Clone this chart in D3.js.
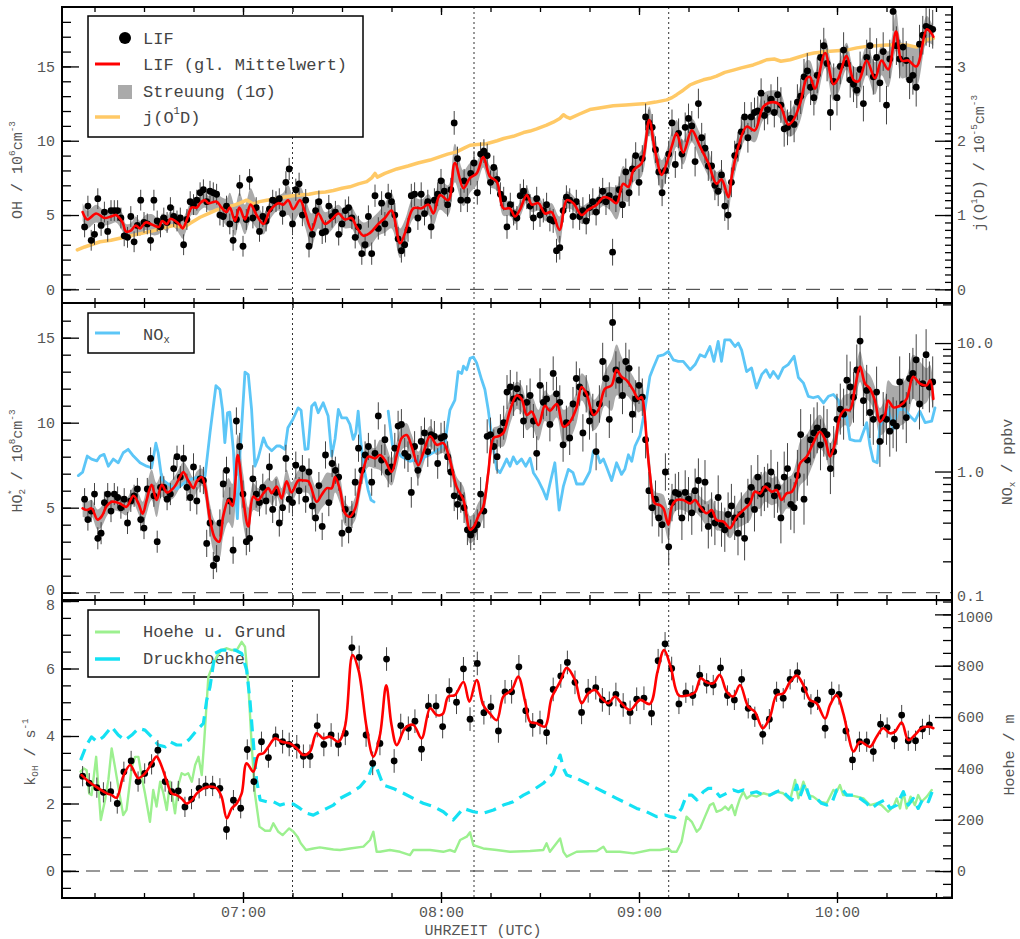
<!DOCTYPE html>
<html><head><meta charset="utf-8">
<script src="https://cdn.jsdelivr.net/npm/d3@7"></script>
<style>
body{margin:0;background:#fff;}
svg{display:block;}
text{font-family:"Liberation Mono","Courier New",monospace;}
</style></head><body>
<svg id="chart" width="1020" height="939"></svg>
<script>
// ---------------- DATA (time in minutes after 06:00) ----------------
const xMajorTicks = [60,120,180,240];
const xTickLabels = ["07:00","08:00","09:00","10:00"];
const markerTimes = [75,130,189];

// Panel 1: OH
const ohTicks = [0,5,10,15];
const jTicks = [0,1,2,3];
// smoothed mean [t, value, sigma]
const ohMean = [[11.4,5.2,0.6],[12.8,4.7,0.6],[15.5,5.1,0.6],[18,4.8,0.5],[20,4.9,0.5],[21.5,5.0,0.5],[23.5,4.5,0.6],[24.5,3.9,0.5],[26,3.95,0.5],[27.5,4.3,0.6],[28.8,4.1,0.5],[30.5,4.5,0.5],[32.5,4.35,0.7],[34.5,4.2,0.5],[35.5,4.6,0.5],[37,4.4,0.5],[38,4.75,0.5],[39.5,4.6,0.5],[41,4.3,0.7],[41.7,4.1,0.7],[43,4.7,0.6],[44.4,5.5,0.5],[46,5.5,0.5],[47,5.8,0.5],[48.5,6.0,0.5],[49.5,5.8,0.5],[52,5.9,0.6],[53.5,5.5,0.7],[55,5.2,0.9],[56,5.5,1.0],[57.6,4.6,1.0],[58.9,5.5,1.0],[60.6,4.7,1.0],[62.3,5.7,1.1],[64.1,5.0,0.9],[66.2,4.4,0.7],[68.2,5.3,0.6],[70.7,5.8,0.5],[72.2,5.7,0.8],[73.7,6.0,1.0],[75.2,5.4,0.9],[77.3,6.0,0.9],[78.8,5.2,1.0],[80.8,4.0,1.1],[82.8,5.1,1.0],[84.8,4.4,0.8],[86.9,4.7,0.7],[88.9,5.1,0.6],[90.9,4.7,0.6],[92.9,4.8,0.7],[94.4,4.2,0.8],[96.5,3.6,0.9],[98.5,3.8,0.9],[101,4.4,0.8],[103,4.8,1.0],[105,5.3,1.2],[107.6,3.1,1.0],[109.1,3.8,0.9],[111.6,5.45,0.7],[114.1,5.45,0.6],[116.2,5.7,0.7],[117.7,5.1,0.8],[119.7,6.35,1.0],[122.2,6.0,1.0],[124.2,8.5,1.3],[126.8,6.8,1.2],[128.8,7.5,1.0],[130.8,7.8,0.8],[132.8,8.9,0.7],[134.8,7.6,0.7],[136.9,7.25,0.6],[138.9,5.45,0.5],[140.9,5.45,0.5],[142.4,4.9,0.5],[143.9,5.35,0.5],[146,6.35,0.5],[147.5,5.7,0.5],[149.5,5.8,0.5],[151.5,5.1,0.5],[153.5,5.2,0.6],[155.9,4.0,0.9],[158.1,6.0,0.6],[160.1,5.8,0.5],[162.6,5.0,0.6],[164.6,5.35,0.5],[167.2,5.7,0.5],[169.2,6.2,0.6],[171.2,6.1,0.8],[173.2,5.8,1.1],[175.2,7.1,1.2],[176.8,6.9,1.0],[178.3,8.0,0.8],[180.8,8.5,0.9],[183.1,11.4,0.9],[184.8,9.4,1.0],[186.9,7.7,1.0],[188.4,8.5,0.9],[189.9,9.6,1.0],[191.4,10.5,0.9],[193.4,9.2,0.8],[196,10.7,0.8],[198.5,9.6,0.9],[201,8.5,0.9],[203.5,7.1,0.8],[205,7.4,0.7],[207.1,6.2,0.8],[208.1,7.6,0.9],[210.1,9.6,0.9],[212.6,10.95,0.8],[215.1,10.7,0.8],[217.7,12.3,0.9],[220.7,12.6,0.8],[222.7,12.4,0.9],[225.2,11.1,0.8],[226.8,11.4,1.0],[228.8,12.5,1.2],[230.8,14.2,1.2],[231.8,14.3,1.1],[233.3,13.5,1.1],[236.4,15.9,1.0],[238.9,13.8,1.1],[240.4,14.2,1.0],[242.9,15.7,0.9],[245,14.1,0.9],[246.5,14.0,1.0],[249,15.4,1.0],[251.5,14.2,1.1],[253.5,15.4,1.0],[255.5,14.8,1.2],[257.9,17.35,1.3],[259.6,15.4,1.2],[261.6,15.4,1.1],[264.1,15.0,1.3],[267.2,17.5,0.9],[268.7,17.2,0.7],[269.2,17.0,0.6]];
// individual LIF points, one per minute starting 06:12
const dotStart = 12;
const ohDots = [
4.2,5.6,3.3,3.7,6.1,4.3,5.2,3.9,5.3,5.3,
5.3,4.8,3.6,3.5,4.9,3.2,4.3,6.0,4.5,4.4,
3.3,6.0,4.6,4.2,4.8,4.5,5.5,4.9,4.6,4.8,
3.0,4.7,5.9,5.7,6.0,6.5,6.7,5.9,6.6,6.5,
6.4,5.0,4.9,5.6,4.4,3.3,4.7,7.0,2.9,4.7,
7.4,4.8,5.5,3.9,4.9,4.6,5.4,6.0,5.9,6.1,
5.1,7.2,8.1,4.4,6.7,7.1,5.0,6.0,2.9,3.7,
5.3,5.9,3.8,3.9,5.6,4.9,5.2,3.7,4.4,5.3,
5.5,4.8,3.5,4.2,2.4,3.0,4.9,2.4,6.3,4.1,
5.8,4.4,6.3,5.9,5.0,3.4,2.6,3.0,4.0,6.3,
6.4,4.8,6.4,5.1,5.9,4.2,6.0,6.4,7.3,6.6,
5.7,6.7,11.2,8.8,6.0,7.3,6.0,7.8,8.5,6.5,
9.1,9.3,9.0,7.2,8.2,7.4,6.4,6.1,4.2,5.7,
5.1,4.8,6.3,6.6,6.2,5.6,4.8,6.1,5.0,5.3,
5.7,4.7,4.6,2.6,2.8,5.3,6.2,6.0,4.9,5.9,
4.9,5.3,4.6,5.5,5.9,5.2,6.0,6.6,5.9,6.3,
2.5,6.1,6.7,5.7,7.9,6.5,8.1,9.0,7.2,8.8,
11.6,11.2,10.9,9.4,7.9,6.5,8.0,9.1,11.2,8.4,
10.5,9.1,10.9,11.5,11.0,8.6,12.5,10.2,9.5,8.3,
8.3,7.0,6.6,7.7,5.6,5.0,7.2,9.0,9.6,10.6,
11.6,10.2,11.6,11.9,12.0,13.2,11.7,12.1,12.8,11.9,
13.1,12.4,10.8,10.9,11.5,11.1,12.6,13.0,14.3,14.7,
13.6,12.9,14.4,15.6,16.4,15.2,11.9,14.0,12.9,15.0,
16.1,15.2,14.1,13.8,13.4,14.8,12.5,15.6,16.4,14.3,
15.6,13.9,16.0,12.4,15.5,18.7,16.4,15.5,16.3,15.4,
14.1,14.4,13.6,16.5,17.1,17.7,17.6,17.5];
// error bar (1 sigma) for each 30-minute block
const ohErr = [0.7,0.7,0.75,0.8,0.8,0.9,1.0,1.2,1.3];
// j(O1D) in 1e-5
const jO1D = [[9.8,0.53],[12,0.57],[14,0.6],[16.7,0.64],[20,0.66],[23,0.69],[26.8,0.73],[30,0.76],[33,0.79],[36.9,0.84],[39,0.86],[41.9,0.83],[44,0.89],[47,0.97],[50,1.03],[52,1.07],[55,1.11],[57.1,1.13],[59,1.16],[61.1,1.2],[62,1.18],[63.1,1.15],[65,1.18],[67.2,1.2],[70,1.22],[72.2,1.24],[75,1.26],[77.3,1.27],[80,1.28],[82.3,1.3],[85,1.31],[87.4,1.33],[90,1.36],[92.4,1.38],[95,1.42],[97.5,1.45],[99,1.5],[100,1.56],[100.7,1.51],[103,1.56],[106.6,1.62],[110,1.66],[113,1.7],[116.7,1.74],[120,1.79],[122,1.82],[124.7,1.85],[127,1.9],[128.8,1.94],[131,1.95],[133.8,1.96],[137,2.0],[139,2.03],[141.9,2.06],[145,2.11],[147,2.13],[149,2.16],[152,2.21],[154,2.25],[156,2.3],[157.1,2.35],[158,2.32],[159.1,2.3],[162,2.36],[165.1,2.42],[168,2.44],[172.2,2.47],[176,2.48],[179,2.49],[182.3,2.5],[185,2.52],[188.4,2.55],[190,2.58],[191.4,2.62],[193.4,2.68],[195.4,2.75],[197.5,2.79],[199.5,2.82],[201.5,2.84],[203.5,2.87],[206,2.92],[208.6,2.95],[211,2.98],[214.6,3.02],[216.5,3.05],[218.7,3.09],[221,3.1],[223,3.07],[225.8,3.09],[228,3.12],[230.8,3.16],[233,3.18],[236.9,3.2],[240,3.21],[242.9,3.22],[246,3.25],[249,3.27],[252,3.28],[255,3.29],[258,3.29],[261.1,3.29],[264.1,3.26],[265.5,3.3],[267.2,3.36],[269.2,3.38]];

// Panel 2: HO2*
const hoTicks = [0,5,10,15];
const noxTicks = [0.1,1,10];
const noxTickLabels = ["0.1","1.0","10.0"];
const hoMean = [[11.4,4.96,0.5],[12.8,4.86,0.5],[14.1,4.96,0.5],[15.9,4.3,0.6],[17.2,4.5,0.6],[18.7,5.1,0.6],[20.2,5.35,0.5],[22.7,5.25,0.5],[24.7,5.05,0.5],[26.8,5.7,0.5],[28.3,5.25,0.6],[29.6,4.65,0.7],[30.8,5.45,0.8],[32.3,6.35,0.9],[33.8,5.45,1.0],[35.4,6.35,0.7],[36.9,5.9,0.5],[38.9,6.15,0.6],[40.9,6.8,0.6],[41.9,7.1,0.6],[43.4,6.6,0.7],[45,6.15,0.6],[46,6.55,0.6],[47.5,6.8,0.5],[48.5,6.25,0.7],[50,4.3,0.9],[51.5,3.2,1.0],[52.8,3.0,1.0],[54,4.5,1.2],[55.6,5.45,1.3],[56.8,5.1,1.3],[58.4,8.1,1.2],[60.1,5.45,1.5],[61.6,3.9,1.1],[63.1,5.65,0.8],[64.6,5.45,0.7],[66.2,5.85,0.6],[67.7,6.15,0.6],[68.7,5.85,0.7],[70.2,6.25,0.6],[71.7,5.55,0.6],[73.2,6.55,0.7],[74.7,5.9,0.6],[76.8,6.6,0.6],[78.3,6.6,0.7],[79.8,6.55,0.7],[82.3,5.35,0.8],[83.8,5.75,0.8],[85.4,6.15,0.9],[86.9,6.15,0.9],[87.9,6.8,0.9],[89.4,6.05,0.8],[90.9,4.67,0.7],[92.4,4.47,0.6],[94,4.96,0.7],[95.5,6.43,0.7],[96.5,7.3,0.6],[98,8.0,0.6],[100,7.9,0.6],[101.5,8.1,0.9],[103,7.8,1.0],[105,7.1,0.8],[106.6,8.1,0.8],[108.1,9.1,0.7],[109.6,9.27,0.7],[111.1,8.6,0.7],[113.1,7.5,0.8],[114.6,8.2,0.7],[116.7,9.2,0.6],[118.7,8.7,0.6],[120.7,8.8,0.6],[122.7,7.8,0.6],[124.7,6.24,0.6],[126.8,5.45,0.8],[128.8,3.7,0.8],[130,3.9,0.8],[131.3,4.5,0.8],[132.8,5.06,0.7],[134.3,7.0,0.6],[135.9,9.1,0.6],[137.4,9.2,0.6],[138.9,9.4,0.8],[140.9,10.7,0.8],[142.9,11.6,0.8],[144.4,11.4,0.8],[146,10.45,0.9],[147.5,10.65,0.9],[149.5,9.85,0.9],[151.5,11.0,0.9],[153,10.7,0.9],[155.1,11.1,0.8],[157.1,9.76,1.0],[159.1,10.06,1.0],[161.1,10.9,0.9],[162.6,12.1,0.8],[164.1,11.7,0.9],[166.2,10.45,0.9],[167.7,10.75,0.9],[169.7,12.0,1.0],[171.7,12.2,1.5],[173.2,13.1,1.5],[174.7,12.7,1.2],[176.2,12.5,0.9],[178.3,11.9,0.8],[179.8,11.4,0.8],[180.8,11.5,0.8],[181.5,10.9,0.8],[182.3,9.0,0.8],[183.3,7.0,0.8],[184.8,5.25,0.7],[186.4,5.15,0.7],[187.4,4.96,0.8],[188.9,4.0,0.9],[189.9,5.06,0.8],[191.4,5.45,0.6],[193.4,5.45,0.6],[195.5,5.25,0.6],[197,5.45,0.7],[198.5,5.06,0.6],[200.5,4.67,0.7],[202,4.86,0.7],[203.5,4.27,0.6],[205.6,4.18,0.6],[207.6,3.8,0.6],[209.6,4.47,0.7],[211.6,4.86,0.9],[213.6,5.25,1.0],[215.1,5.94,1.0],[216.7,5.84,0.9],[218.2,6.24,0.9],[220.2,5.94,0.8],[221.7,6.04,0.8],[223.2,5.45,0.9],[224.7,5.84,0.9],[226.3,5.94,1.0],[227.8,6.63,1.2],[228.8,7.6,1.3],[230.8,8.0,1.3],[232.8,8.8,1.2],[234.8,9.47,1.0],[236.4,8.98,0.9],[237.9,8.0,0.8],[239.4,8.8,0.7],[240.9,10.35,0.8],[242.4,10.75,0.9],[243.9,10.75,1.0],[245.5,12.1,1.0],[247,13.3,0.9],[248.5,12.3,0.8],[250,12.0,0.8],[251.5,11.3,0.8],[253,10.06,0.8],[254.5,10.45,1.0],[255.5,11.3,1.2],[257.1,10.9,1.3],[259.1,11.0,1.2],[261.1,11.4,1.3],[263.1,12.7,1.3],[265.1,12.3,1.3],[267.2,12.2,1.0],[268.2,12.5,0.9],[269.2,11.4,0.8]];
const hoDots = [
5.5,4.3,4.8,5.8,3.2,3.5,5.3,5.8,4.8,5.8,
5.6,5.0,5.5,4.1,5.4,5.7,6.1,4.3,3.8,6.1,
7.9,5.7,3.0,6.2,6.2,5.5,5.8,7.3,8.0,6.8,
7.9,6.2,5.6,7.4,5.4,6.7,6.6,2.9,4.1,1.6,
2.0,4.1,6.4,7.2,5.4,2.5,10.1,8.6,5.8,3.0,
3.2,6.7,5.8,5.3,6.2,5.4,7.4,4.9,5.9,4.1,
5.0,7.9,5.5,5.3,7.5,6.0,7.3,5.5,7.1,5.1,
4.4,6.3,3.9,8.1,5.3,7.6,7.2,6.8,3.5,4.9,
3.7,4.6,6.5,8.5,7.2,8.1,8.6,6.5,8.2,10.4,
7.8,9.0,7.1,7.4,8.5,9.8,9.9,8.2,8.0,5.9,
8.6,7.2,8.9,9.4,8.3,9.3,9.2,7.6,9.1,9.2,
8.0,7.1,5.7,5.2,5.6,5.0,3.7,3.4,3.7,4.0,
5.8,4.8,9.2,9.3,8.6,8.0,9.5,10.0,11.8,12.1,
11.4,12.0,11.5,10.1,11.2,11.6,10.1,8.2,12.2,11.2,
11.4,9.9,12.9,11.7,11.2,8.7,10.0,9.1,11.1,12.6,
12.1,9.4,11.7,10.1,10.6,8.3,11.1,13.6,12.6,10.2,
15.9,13.1,12.5,11.6,13.6,13.2,10.5,11.4,12.2,11.5,
9.0,6.0,5.0,5.5,4.4,4.0,7.1,2.7,5.3,5.9,
5.8,4.4,5.9,5.5,4.7,6.0,6.6,4.9,6.5,3.9,
4.6,4.1,5.6,4.0,3.7,4.6,5.1,4.4,3.5,4.6,
3.2,5.4,6.2,4.9,6.8,5.8,6.1,6.3,7.1,5.7,
6.2,4.4,6.8,7.3,5.2,5.0,6.9,9.3,5.5,7.8,
9.0,9.4,9.7,8.7,9.5,9.3,7.3,8.3,10.2,10.8,
10.5,12.5,12.1,11.5,13.1,14.8,11.3,11.9,10.6,10.2,
11.8,8.9,10.3,10.2,9.5,10.0,9.8,12.4,11.1,10.3,
12.6,12.9,13.7,11.1,12.3,14.0,12.1,12.4];
const hoErr = [0.65,0.8,0.8,0.9,1.0,1.1,1.3,1.5,1.5];
// NOx (ppbv), two segments (data gap)
const noxSeg1 = [[10.1,0.93],[11.4,0.99],[12.8,1.32],[14.1,1.25],[15.7,1.21],[16.7,1.32],[17.9,1.36],[19.2,1.1],[20.7,1.25],[22.2,1.17],[23.7,1.4],[25.2,1.49],[26.8,1.32],[28.8,1.17],[30.8,1.1],[32.3,1.07],[33.6,1.66],[34.3,1.4],[35.4,0.87],[37.9,0.78],[39.9,0.73],[43,0.85],[46,0.9],[48.5,0.92],[50,2.0],[51.8,4.66],[53,4.35],[53.8,3.04],[54.5,1.68],[55.3,2.86],[56,2.9],[57.1,1.45],[57.6,0.77],[58.3,0.43],[59.1,1.4],[60.6,5.93],[61.6,5.68],[62.6,3.04],[63.6,1.1],[64.6,1.28],[66.2,1.83],[67.2,1.58],[68.7,1.45],[70.2,1.58],[71.2,1.58],[72.7,1.49],[73.6,2.19],[75.1,2.54],[76.7,3.13],[77.6,3.0],[78.8,1.49],[79.7,1.5],[80.8,3.22],[81.8,3.43],[82.8,2.87],[84.3,3.43],[85.8,2.7],[86.9,1.32],[87.9,1.8],[88.9,3.04],[89.9,2.62],[91.4,2.62],[92.4,2.33],[93.4,1.78],[94.2,2.0],[94.9,2.95],[95.8,1.6],[97,0.95],[97.9,0.72],[98.8,0.6],[99.7,0.58]];
const noxSeg2 = [[104,2.95],[105.3,1.6],[106.6,1.45],[108.1,1.3],[110.6,1.2],[112.6,1.25],[113.6,1.17],[115.1,1.3],[116.7,1.36],[118.7,1.45],[120.2,1.55],[121.2,1.7],[122.7,3.0],[124.2,3.6],[125.2,6.0],[126.3,5.8],[126.8,6.6],[127.8,6.2],[128.8,7.6],[129.8,7.8],[130.8,7.0],[132.3,5.2],[133.3,4.35],[134.3,3.04],[135.9,1.49],[136.9,1.04],[137.9,0.98],[138.9,1.1],[139.9,1.25],[140.9,1.1],[141.9,1.3],[143,1.15],[144.4,1.25],[145.7,1.1],[147,1.27],[148,0.98],[149.5,0.85],[151,0.71],[152,0.61],[153,0.8],[154.5,1.17],[155.8,0.5],[157.1,0.77],[158.6,1.04],[160,0.98],[161.1,0.8],[163.1,0.8],[165.1,1.0],[166.2,1.45],[167.2,1.4],[168.2,1.17],[169.2,1.25],[170.2,1.08],[171.7,0.85],[173.2,1.17],[174.7,0.95],[175.7,1.04],[176.8,1.35],[177.8,1.2],[178.8,1.58],[180.3,1.9],[181.8,3.04],[183.3,5.5],[184.3,6.4],[185.8,7.9],[187.4,8.1],[188.9,8.6],[190.4,7.4],[191.9,7.2],[193.4,7.2],[195.5,6.2],[197,6.8],[198.5,8.1],[200,7.8],[201.5,9.4],[202.7,7.2],[204,10.3],[205,7.2],[206,10.6],[207.6,10.6],[209.1,9.4],[210.1,10.0],[211.1,8.8],[212.6,6.0],[214.1,6.4],[215.6,4.47],[217.2,5.7],[218.5,6.2],[219.7,5.4],[220.7,6.0],[222.2,5.3],[223.7,6.4],[225.2,6.8],[227,7.9],[228.3,5.4],[229.8,4.9],[231.3,3.85],[232.8,3.75],[234.3,3.85],[235.9,3.42],[237.4,3.85],[238.9,3.98],[240.4,3.6],[241.7,2.62],[242.9,2.7],[243.9,1.78],[245.5,1.73],[247,1.73],[249,2.4],[250,1.58],[251,1.21],[252.2,1.17],[253,2.26],[254.5,2.6],[255.5,3.04],[257,2.13],[258.6,3.04],[260.6,3.04],[262.1,2.7],[263.6,2.47],[265.1,2.95],[266.7,2.4],[268.7,2.47],[269.7,3.13]];

// Panel 3: kOH
const kTicks = [0,2,4,6,8];
const hTicks = [0,200,400,600,800,1000];
const kMean = [[11.1,2.84],[13.6,2.62],[16.2,2.45],[18.7,2.3],[20.2,2.25],[21.7,2.17],[23.7,2.8],[25.8,3.14],[27.3,2.89],[28.3,2.75],[30.3,2.89],[32.3,3.19],[33.8,3.39],[35.4,3.09],[36.9,2.65],[38.4,2.3],[39.9,2.25],[41.4,2.15],[42.9,2.0],[44.5,2.1],[46,2.3],[48,2.45],[50,2.5],[52,2.45],[53.5,2.2],[55.1,1.56],[56.6,1.86],[58.1,2.0],[59.6,2.3],[61.1,3.19],[63.1,2.94],[64.7,3.44],[66.2,3.49],[67.7,3.68],[69.7,3.93],[71.7,3.83],[74.2,3.78],[76.3,3.63],[78.3,3.44],[80.3,3.54],[82.3,4.08],[84.3,3.93],[86.4,3.98],[88.9,3.83],[90.9,4.28],[93.2,6.4],[95,5.95],[97.5,4.23],[99.5,3.39],[101.5,4.03],[103.4,5.5],[105,4.33],[106.6,3.73],[109.1,4.23],[111.6,4.33],[114.1,3.93],[116.7,4.82],[118.7,4.62],[120.5,4.65],[122.2,5.17],[124.2,5.21],[126.8,5.6],[128.6,5.02],[130.8,5.66],[132.8,4.92],[134.8,4.67],[136.9,4.47],[138.9,5.17],[141.4,5.36],[143.4,5.76],[145.5,5.02],[147,4.42],[149,4.38],[151.5,4.28],[153.5,5.12],[156.1,5.61],[158.1,6.02],[160.6,5.66],[162.6,4.97],[164.6,5.26],[166.7,5.36],[168.7,5.12],[170.7,4.97],[172.7,5.17],[174.7,4.97],[177.3,4.77],[180.3,5.07],[183.3,4.95],[185.6,5.9],[187.6,6.55],[189.6,6.05],[192.1,5.2],[195,5.21],[197,5.3],[198.7,5.71],[200.5,5.59],[202.5,5.56],[204.5,5.81],[206.6,5.31],[208.6,5.17],[210.6,5.51],[213.1,4.87],[215.1,4.72],[217.5,4.23],[219.7,4.57],[221.7,5.21],[223.7,5.26],[225.8,5.61],[227.8,5.79],[229.8,5.51],[231.8,5.07],[233.8,4.97],[236.4,4.52],[237.9,4.92],[239.9,5.21],[241.9,4.67],[243.4,4.03],[245,3.54],[247,3.83],[250,3.68],[252,3.98],[254,4.23],[256.1,4.08],[257.6,4.13],[259.6,4.4],[261.6,3.88],[263.6,4.03],[265.6,4.23],[267.7,4.28],[269.2,4.23]];
const kDots = [[11.4,2.81],[13.4,2.6],[15.7,2.47],[17.7,2.33],[19.9,2.35],[21.9,2.0],[23.9,2.94],[26.1,3.26],[28.2,2.65],[30.2,2.89],[32.3,3.16],[34.2,3.58],[36.4,2.65],[38.4,2.35],[40.4,2.37],[42.4,1.9],[44.4,2.13],[46.7,2.45],[48.7,2.52],[50.8,2.52],[53,2.45],[55,1.23],[57.1,2.1],[59.3,1.86],[61.3,3.6],[63.3,2.65],[65.6,3.83],[67.7,3.36],[69.9,3.98],[72,3.83],[74,3.75],[76.3,3.68],[78.3,3.4],[80.3,3.4],[82.5,4.31],[84.5,3.75],[86.7,4.03],[88.9,3.75],[91,4.08],[93,6.62],[95.2,6.33],[97.3,4.03],[99.3,3.19],[101.5,3.78],[103.5,6.28],[105.8,3.26],[107.8,4.31],[110.1,4.23],[112.1,4.44],[114.1,3.61],[116.2,4.89],[118.5,4.89],[120.5,4.28],[122.5,5.36],[124.7,5.0],[126.8,5.99],[128.8,4.5],[131,6.15],[133,4.69],[135.1,4.87],[137.4,4.15],[139.4,5.31],[141.4,5.31],[143.6,6.05],[145.7,4.75],[147.8,4.33],[150,4.4],[152,4.1],[154,5.38],[156.3,5.78],[158.3,6.18],[160.6,5.59],[162.6,4.7],[164.6,5.34],[166.9,5.43],[168.9,5.07],[171,4.97],[173,5.23],[175.2,4.92],[177.3,4.7],[179.3,5.09],[181.5,5.12],[183.8,4.67],[185.8,6.23],[187.9,6.73],[189.9,6.0],[192.1,4.95],[194.2,5.28],[196.3,5.2],[198.4,5.8],[200.5,5.56],[202.5,5.51],[204.7,6.02],[206.8,5.2],[208.9,5.07],[211.1,5.68],[213.1,4.82],[215.1,4.57],[217.5,4.05],[219.5,4.5],[221.7,5.31],[223.7,5.12],[225.8,5.68],[228,5.88],[230.1,5.38],[232.1,4.94],[234.1,5.07],[236.4,4.23],[238.4,5.31],[240.6,5.23],[242.7,4.15],[244.7,3.29],[246.8,3.83],[249,3.83],[251,3.54],[253.2,4.35],[255.2,4.25],[257.4,3.91],[259.6,4.62],[261.6,3.86],[263.8,3.86],[265.9,4.21],[268,4.33]];
const kErr = [0.3,0.3,0.35,0.35,0.35,0.35,0.3,0.3,0.3];
// altitude above ground (m)
const hGround = [[10.8,387],[11.8,400],[12.6,393],[13.4,302],[14.1,296],[15.5,445],[16.9,199],[18.2,277],[19.2,355],[20.2,478],[21.2,406],[22.2,329],[23.7,218],[24.7,238],[26.3,406],[27.3,445],[28.3,445],[29.3,368],[30.3,302],[31.8,192],[32.8,316],[33.8,251],[34.9,348],[35.9,302],[36.9,238],[37.9,348],[39.4,225],[40.4,335],[41.4,381],[42.4,374],[43.4,381],[44.5,348],[45.5,413],[46.5,445],[47.5,374],[48.2,497],[49.5,757],[50.5,790],[52,835],[53.5,861],[55.1,868],[56.6,861],[58.1,861],[59.6,893],[60.6,874],[61.6,731],[62.6,497],[63.6,302],[65,173],[66.7,157],[68.2,157],[69.2,186],[70.7,153],[72,140],[73,153],[74,166],[75.3,153],[76.5,134],[77.5,108],[79.1,82],[81.3,88],[83.3,92],[85.4,88],[87.4,84],[89.4,82],[92.4,88],[96.5,95],[98.5,121],[99.5,153],[100.5,75],[101.5,75],[104.5,82],[107.6,75],[110.6,62],[111.6,82],[116.7,82],[120.7,75],[122.7,82],[124.2,75],[125.8,121],[127.8,134],[128.8,151],[129.8,101],[132.8,88],[136.9,82],[140.9,75],[147,78],[151,82],[152,108],[153,75],[156.1,127],[157.1,75],[158.1,56],[161.1,75],[167.2,78],[169.2,95],[170.2,75],[174.2,75],[178.3,69],[183.3,82],[186.4,82],[188.9,88],[189.9,75],[191.4,75],[192.9,114],[194.4,212],[196,192],[197.5,153],[198.5,166],[200,212],[201.5,257],[202.5,264],[203.5,231],[205,238],[206.1,251],[207.1,238],[208.1,257],[209.1,218],[209.6,244],[210.6,283],[211.6,309],[212.6,283],[214.1,296],[215.6,290],[217.7,303],[219.7,296],[221.7,309],[223.7,303],[225.8,277],[227.3,355],[228.3,283],[229.8,348],[231.3,296],[232.8,290],[234.8,270],[236.9,264],[238.9,316],[239.9,309],[240.9,335],[241.9,296],[243.9,296],[246,290],[248,283],[250,257],[252,264],[253.5,257],[255.5,231],[257.1,251],[258.1,283],[259.1,244],[260.1,309],[261.1,244],[262.3,290],[263.6,257],[264.6,296],[265.6,270],[267.2,290],[268.7,316]];
// pressure altitude (m)
const hPressure = [[10.8,432],[12.6,491],[14.1,523],[15.7,504],[17.7,523],[20.2,562],[22.2,530],[24.2,510],[26.3,530],[28.3,556],[30.3,549],[32.3,523],[34.3,491],[36.4,484],[37.9,504],[39.9,491],[41.9,491],[44,517],[46,549],[48,575],[49,666],[50,718],[51.5,848],[53.5,861],[55.6,861],[57.6,861],[59.6,848],[61.1,783],[62.1,666],[62.9,536],[64.1,355],[65.2,277],[67.2,270],[69.2,270],[71.2,257],[73.2,264],[75.3,261],[77.3,244],[79.3,225],[81.3,218],[83.3,231],[85.4,244],[87.4,257],[89.4,283],[92.4,303],[95.5,329],[98,368],[99,400],[100,419],[102.5,335],[105.5,322],[108.6,303],[111.6,283],[114.6,264],[117.7,251],[120.7,231],[123.7,199],[126.8,244],[129.8,231],[132.8,225],[135.9,238],[138.9,257],[141.9,270],[145,296],[148,316],[151,342],[154,381],[156.1,452],[157.1,400],[158.1,374],[161.1,361],[164.1,342],[167.2,322],[170.2,303],[173.2,283],[176.2,264],[179.3,244],[182.3,231],[185.3,212],[187.9,218],[189.4,212],[190.9,208],[192.9,244],[194.4,296],[196,296],[197.5,277],[199.5,309],[201,322],[202.5,322],[204.5,290],[206.6,303],[208.6,316],[210.1,309],[211.6,316],[213.6,303],[215.6,309],[217.7,296],[219.7,296],[221.7,309],[223.2,316],[224.7,296],[226.3,277],[227.8,335],[228.8,290],[230.3,342],[231.8,283],[233.8,283],[235.3,264],[236.9,257],[238.4,264],[239.9,316],[241.4,322],[242.9,296],[245,296],[247,283],[249,264],[250.5,244],[252.5,264],[254.5,277],[256.1,244],[258.1,257],[260.1,309],[261.6,257],[263.1,283],[264.6,244],[266.1,283],[267.7,270],[269.2,322]];

// ---------------- DRAWING ----------------
const RED="#ff0000", BAND="#aaaaaa", ORANGE="#ffc966", BLUE="#5cc6f7", GREEN="#9cf08f", CYAN="#14e1f3", TXT="#555";
const FONT="Liberation Mono, Courier New, monospace";
const svg=d3.select("#chart");
const L=62,R=952;
const x=d3.scaleLinear().domain([5.15,274.85]).range([L,R]);
const panels=[{top:7,bot:303},{top:303,bot:600},{top:600,bot:898}];
const yOH=d3.scaleLinear().domain([-0.92,19.0]).range([303,7]);
const yJ=d3.scaleLinear().domain([-0.184,3.8]).range([303,7]);
const yHO=d3.scaleLinear().domain([-0.43,17.04]).range([600,303]);
const yNOx=d3.scaleLog().domain([0.1,20.5]).range([600,303]);
const yK=d3.scaleLinear().domain([-0.8,8.03]).range([898,600]);
const yH=d3.scaleLinear().domain([-105,1056]).range([898,600]);
const smooth=d3.curveCatmullRom.alpha(0.5);

const defs=svg.append("defs");
panels.forEach((p,i)=>{
  defs.append("clipPath").attr("id","clip"+i).append("rect")
   .attr("x",L).attr("y",p.top).attr("width",R-L).attr("height",p.bot-p.top);
});

function panelG(i){return svg.append("g").attr("clip-path","url(#clip"+i+")");}
function errIdx(t,arr){return arr[Math.max(0,Math.min(arr.length-1,Math.floor((t-dotStart)/30)))];}

function drawZero(g,y){
  g.append("line").attr("x1",L).attr("x2",R).attr("y1",y(0)).attr("y2",y(0))
   .attr("stroke","#333").attr("stroke-width",1).attr("stroke-dasharray","14,10");
}
function drawMarkers(g,p){
  markerTimes.forEach(t=>g.append("line").attr("x1",x(t)).attr("x2",x(t)).attr("y1",p.top).attr("y2",p.bot)
   .attr("stroke","#333").attr("stroke-width",1).attr("stroke-dasharray","2,3"));
}
function drawBand(g,data,y){
  g.append("path").datum(data).attr("fill",BAND).attr("stroke","none")
   .attr("d",d3.area().curve(smooth).x(d=>x(d[0])).y0(d=>y(d[1]-d[2])).y1(d=>y(d[1]+d[2])));
}
function drawLine(g,data,y,color,w,curve,dash){
  const p=g.append("path").datum(data).attr("fill","none").attr("stroke",color).attr("stroke-width",w)
   .attr("stroke-linejoin","round").attr("stroke-linecap","round")
   .attr("d",d3.line().curve(curve||d3.curveLinear).x(d=>x(d[0])).y(d=>y(d[1])));
  if(dash) p.attr("stroke-dasharray",dash).attr("stroke-linecap","butt");
}
function drawPoints(g,pts,y,errArr){
  const eg=g.append("g");
  pts.forEach(d=>{
    const e=errIdx(d[0],errArr);
    eg.append("line").attr("x1",x(d[0])).attr("x2",x(d[0])).attr("y1",y(d[1]-e)).attr("y2",y(d[1]+e))
      .attr("stroke","#444").attr("stroke-width",1);
  });
  g.append("g").selectAll("circle").data(pts).join("circle")
   .attr("cx",d=>x(d[0])).attr("cy",d=>y(d[1])).attr("r",3.4).attr("fill","#000");
}

// ---- rich text helper
function rich(parent,parts,size,attrs){
  const t=parent.append("text").attr("font-family",FONT).attr("font-size",size).attr("fill",TXT);
  Object.entries(attrs||{}).forEach(([k,v])=>t.attr(k,v));
  let cur=0;
  parts.forEach(pt=>{
    const [s,k,dx]=pt;
    const target = k==="sup"? -0.42*size : k==="sub"? 0.28*size : 0;
    const ts=t.append("tspan").attr("dy",(target-cur).toFixed(2)).text(s);
    if(k!=="n") ts.attr("font-size",size*0.62);
    if(dx) ts.attr("dx",dx);
    cur=target;
  });
  return t;
}
function legendBox(x0,y0,w,h){
  svg.append("rect").attr("x",x0).attr("y",y0).attr("width",w).attr("height",h)
    .attr("fill","#fff").attr("stroke","#000").attr("stroke-width",1.5);
}
function legLine(y,color,w,dash){
  const l=svg.append("line").attr("x1",95).attr("x2",120).attr("y1",y).attr("y2",y).attr("stroke",color).attr("stroke-width",w);
  if(dash) l.attr("stroke-dasharray",dash);
}
function legText(y,parts){ rich(svg,parts,17,{x:143,y:y,"dominant-baseline":"central",fill:"#444"}); }

// ---- Panel 1
const ohPts = ohDots.map((v,i)=>[dotStart+i,v]);
const hoPts = hoDots.map((v,i)=>[dotStart+i,v]);
{
  const g=panelG(0);
  drawZero(g,yOH);
  drawMarkers(g,panels[0]);
  drawBand(g,ohMean,yOH);
  drawLine(g,jO1D,yJ,ORANGE,3.5);
  drawPoints(g,ohPts,yOH,ohErr);
  drawLine(g,ohMean,yOH,RED,2.6,smooth);
}
// ---- Panel 2
{
  const g=panelG(1);
  drawZero(g,yHO);
  drawMarkers(g,panels[1]);
  drawBand(g,hoMean,yHO);
  drawLine(g,noxSeg1,yNOx,BLUE,2.8);
  drawLine(g,noxSeg2,yNOx,BLUE,2.8);
  drawPoints(g,hoPts,yHO,hoErr);
  drawLine(g,hoMean,yHO,RED,2.6,smooth);
}
// ---- Panel 3 (legend lies beneath the curves)
{
  const g0=panelG(2);
  drawZero(g0,yK);
  drawMarkers(g0,panels[2]);
  legendBox(88,610,231,67);
  legLine(632,GREEN,3);
  legText(632,[["Hoehe u. Grund","n"]]);
  legLine(659,CYAN,3.5);
  legText(659,[["Druckhoehe","n"]]);
  const g=panelG(2);
  drawLine(g,hGround,yH,GREEN,2.4);
  drawLine(g,hPressure,yH,CYAN,3.2,d3.curveLinear,"12,7");
  drawPoints(g,kDots,yK,kErr);
  drawLine(g,kMean,yK,RED,2.6,smooth);
}

// ---- Axes
function styleAxis(sel){
  sel.attr("font-family",FONT).attr("font-size",15);
  sel.select(".domain").remove();
  sel.selectAll(".tick line").attr("stroke","#000").attr("stroke-width",1.3);
  sel.selectAll("text").attr("fill",TXT);
}
const xMinor = d3.range(15,271,15);
panels.forEach((p,i)=>{
  svg.append("g").attr("transform",`translate(0,${p.top})`)
    .call(d3.axisTop(x).tickValues(xMinor).tickSize(-5).tickSizeOuter(0).tickFormat("")).call(styleAxis);
  svg.append("g").attr("transform",`translate(0,${p.top})`)
    .call(d3.axisTop(x).tickValues(xMajorTicks).tickSize(i===0?-8:-6).tickSizeOuter(0).tickFormat("")).call(styleAxis);
  svg.append("g").attr("transform",`translate(0,${p.bot})`)
    .call(d3.axisBottom(x).tickValues(xMinor).tickSize(-5).tickSizeOuter(0).tickFormat("")).call(styleAxis);
  svg.append("g").attr("transform",`translate(0,${p.bot})`)
    .call(d3.axisBottom(x).tickValues(xMajorTicks).tickSize(-6).tickSizeOuter(0).tickFormat("")).call(styleAxis);
});
svg.append("g").attr("transform",`translate(0,898)`)
  .call(d3.axisBottom(x).tickValues(xMajorTicks).tickSize(5).tickPadding(3).tickSizeOuter(0)
    .tickFormat((d,i)=>xTickLabels[i])).call(styleAxis);

function leftAxis(y,major,minor,fmt,nudge){
  svg.append("g").attr("transform",`translate(${L},0)`)
    .call(d3.axisLeft(y).tickValues(minor).tickSize(-9).tickSizeOuter(0).tickFormat("")).call(styleAxis);
  const g=svg.append("g").attr("transform",`translate(${L},0)`)
    .call(d3.axisLeft(y).tickValues(major).tickSize(-17).tickPadding(7).tickSizeOuter(0).tickFormat(fmt||(d=>d))).call(styleAxis);
  if(nudge) g.selectAll(".tick text").attr("transform",d=>nudge[d]?`translate(0,${nudge[d]})`:null);
}
function rightAxis(y,major,minor,fmt,minLen,nudge){
  svg.append("g").attr("transform",`translate(${R},0)`)
    .call(d3.axisRight(y).tickValues(minor).tickSize(-(minLen||9)).tickSizeOuter(0).tickFormat("")).call(styleAxis);
  const g=svg.append("g").attr("transform",`translate(${R},0)`)
    .call(d3.axisRight(y).tickValues(major).tickSize(-17).tickPadding(5).tickSizeOuter(0).tickFormat(fmt||(d=>d))).call(styleAxis);
  if(nudge) g.selectAll(".tick text").attr("transform",d=>nudge[d]?`translate(0,${nudge[d]})`:null);
}
leftAxis(yOH,ohTicks,d3.range(0,18.5,1));
rightAxis(yJ,jTicks,d3.range(0,3.75,0.1).map(v=>+v.toFixed(1)),null,7);
leftAxis(yHO,hoTicks,d3.range(0,16.5,1),null,{0:-3});
const noxMinor=[0.2,0.3,0.4,0.5,0.6,0.7,0.8,0.9,2,3,4,5,6,7,8,9,20];
rightAxis(yNOx,noxTicks,noxMinor,(d,i)=>noxTickLabels[i],9,{0.1:-4});
leftAxis(yK,kTicks,d3.range(-0.5,8.01,0.5),null,{8:4});
rightAxis(yH,hTicks,d3.range(-100,1051,50),null,9,{1000:2});

// frames
panels.forEach(p=>{
  svg.append("rect").attr("x",L).attr("y",p.top).attr("width",R-L).attr("height",p.bot-p.top)
    .attr("fill","none").attr("stroke","#000").attr("stroke-width",2);
});

function vlabel(cx,cy,parts){
  const g=svg.append("g").attr("transform",`translate(${cx},${cy}) rotate(-90)`);
  rich(g,parts,15,{"text-anchor":"middle","dominant-baseline":"central"});
}
vlabel(18,170,[["OH / 10","n"],["6","sup"],["cm","n"],["-3","sup"]]);
vlabel(980,163,[["j(O","n"],["1","sup"],["D) / 10","n"],["-5","sup"],["cm","n"],["-3","sup"]]);
vlabel(18,461,[["HO","n"],["2","sub"],["*","sup",-6],["  / 10","n"],["8","sup"],["cm","n"],["-3","sup"]]);
vlabel(1008,462,[["NO","n"],["x","sub"],[" / ppbv","n"]]);
vlabel(31,752,[["k","n"],["OH","sub"],[" / s","n"],["-1","sup"]]);
vlabel(1010,755,[["Hoehe / m","n"]]);
svg.append("text").attr("x",483).attr("y",935).attr("text-anchor","middle").attr("font-family",FONT)
  .attr("font-size",15).attr("fill",TXT).text("UHRZEIT (UTC)");

// ---- legends (panels 1 and 2)
legendBox(88,16,275,121);
svg.append("circle").attr("cx",125).attr("cy",38).attr("r",6).attr("fill","#000");
legText(39,[["LIF","n"]]);
legLine(64,RED,3);
legText(65,[["LIF (gl. Mittelwert)","n"]]);
svg.append("rect").attr("x",118).attr("y",85).attr("width",14).attr("height",14).attr("fill",BAND);
legText(92,[["Streuung (1σ)","n"]]);
legLine(117,ORANGE,3.5);
legText(118,[["j(O","n"],["1","sup"],["D)","n"]]);

legendBox(88,313,106,40);
legLine(333,BLUE,3);
legText(335,[["NO","n"],["x","sub"]]);
</script></body></html>
